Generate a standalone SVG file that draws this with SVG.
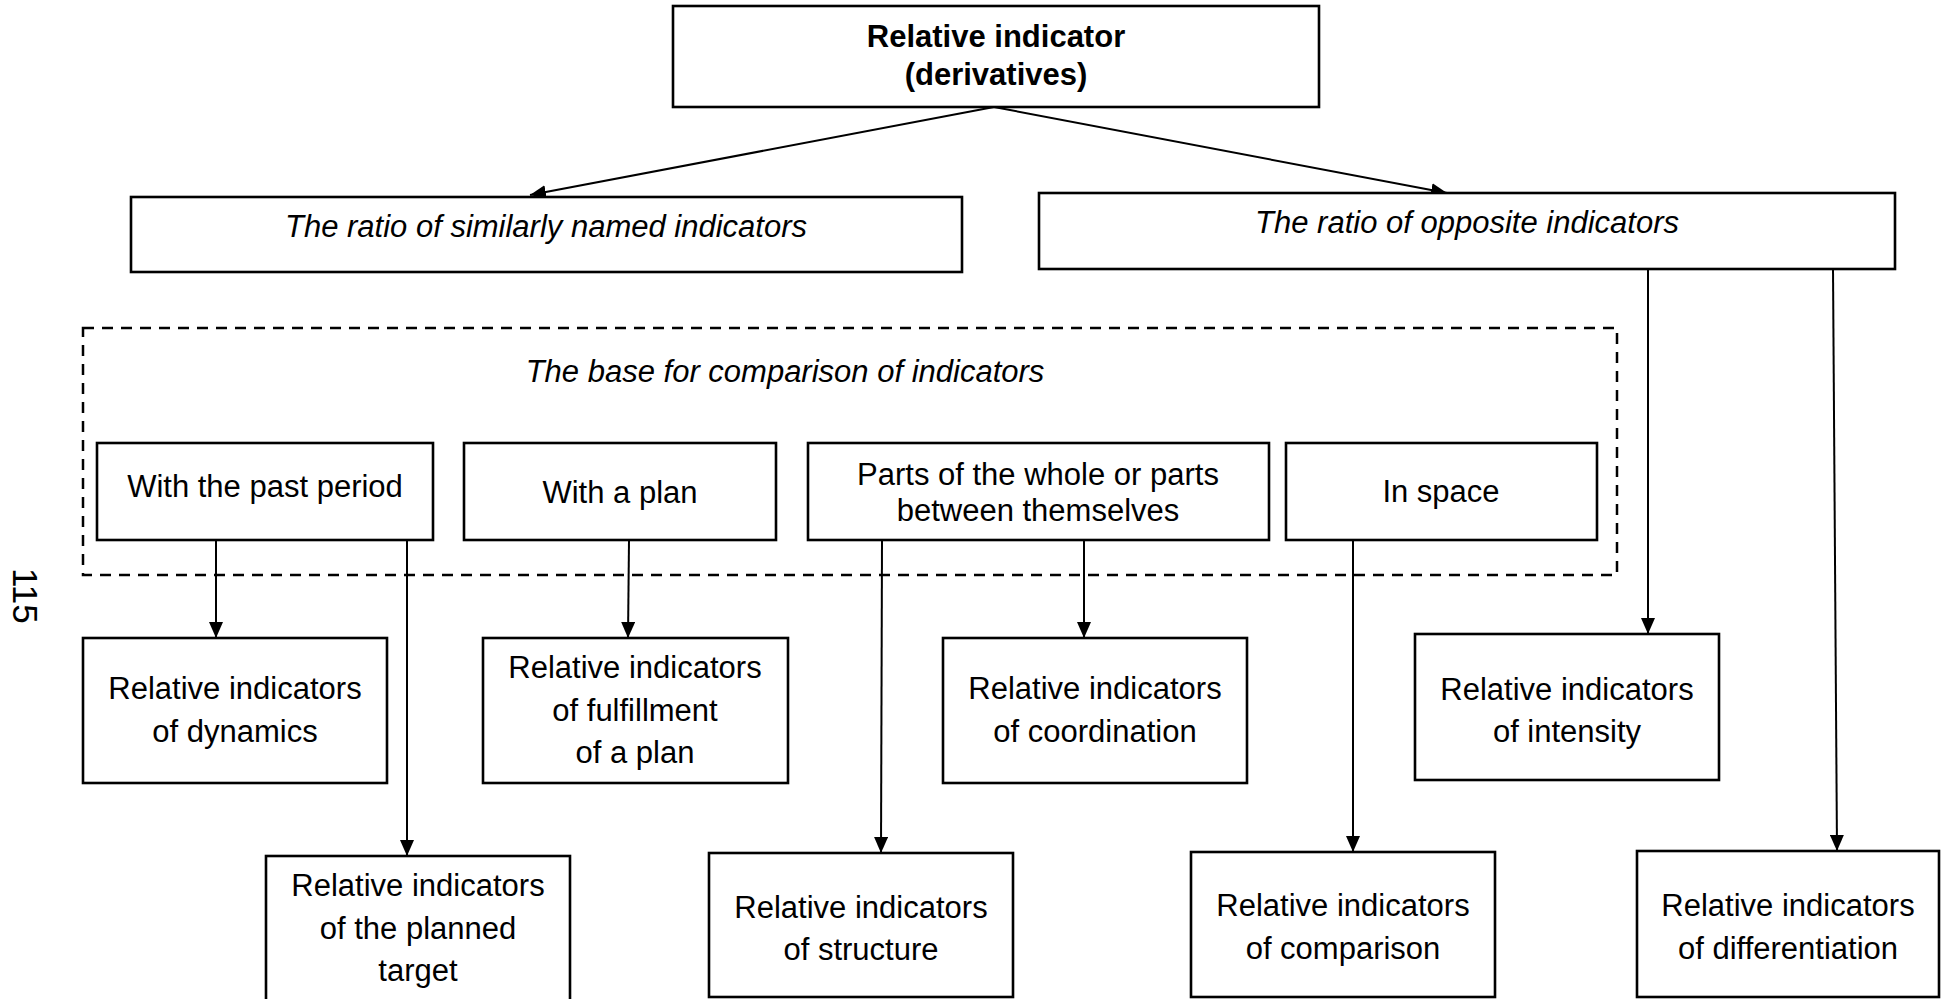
<svg xmlns="http://www.w3.org/2000/svg" width="1941" height="999" viewBox="0 0 1941 999">
<style>
  .box{fill:#fff;stroke:#000;stroke-width:2.6}
  .dash{fill:none;stroke:#000;stroke-width:2.5;stroke-dasharray:11 8}
  .t{font-family:"Liberation Sans",Arial,sans-serif;font-size:31px;fill:#000;text-anchor:middle}
  .b{font-weight:bold}
  .i{font-style:italic}
  .c{stroke:#000;stroke-width:2;fill:none}
</style>
<defs>
  <marker id="arr" markerUnits="userSpaceOnUse" markerWidth="16" markerHeight="14" refX="16" refY="7" orient="auto">
    <path d="M0,0 L16,7 L0,14 Z" fill="#000"/>
  </marker>
</defs>
<rect x="0" y="0" width="1941" height="999" fill="#fff"/>

<text class="t" style="font-size:35px;text-anchor:start" transform="translate(13,568) rotate(90)">115</text>

<g id="base-frame">
  <rect class="dash" x="83" y="328" width="1534" height="247"/>
  <text class="t i" x="785" y="382">The base for comparison of indicators</text>
</g>

<g id="connectors">
  <line class="c" x1="994" y1="107" x2="530" y2="195" marker-end="url(#arr)"/>
  <line class="c" x1="994" y1="107" x2="1447" y2="193" marker-end="url(#arr)"/>
  <line class="c" x1="216" y1="540" x2="216" y2="638" marker-end="url(#arr)"/>
  <line class="c" x1="407" y1="540" x2="407" y2="856" marker-end="url(#arr)"/>
  <line class="c" x1="629" y1="540" x2="628" y2="638" marker-end="url(#arr)"/>
  <line class="c" x1="882" y1="540" x2="881" y2="853" marker-end="url(#arr)"/>
  <line class="c" x1="1084" y1="540" x2="1084" y2="638" marker-end="url(#arr)"/>
  <line class="c" x1="1353" y1="540" x2="1353" y2="852" marker-end="url(#arr)"/>
  <line class="c" x1="1648" y1="269" x2="1648" y2="634" marker-end="url(#arr)"/>
  <line class="c" x1="1833" y1="269" x2="1837" y2="851" marker-end="url(#arr)"/>
</g>

<g id="root">
  <rect class="box" x="673" y="6" width="646" height="101"/>
  <text class="t b" x="996" y="47">Relative indicator</text>
  <text class="t b" x="996" y="85">(derivatives)</text>
</g>

<g id="similar">
  <rect class="box" x="131" y="197" width="831" height="75"/>
  <text class="t i" x="546" y="237">The ratio of similarly named indicators</text>
</g>

<g id="opposite">
  <rect class="box" x="1039" y="193" width="856" height="76"/>
  <text class="t i" x="1467" y="233">The ratio of opposite indicators</text>
</g>

<g id="past">
  <rect class="box" x="97" y="443" width="336" height="97"/>
  <text class="t" x="265" y="497">With the past period</text>
</g>

<g id="plan">
  <rect class="box" x="464" y="443" width="312" height="97"/>
  <text class="t" x="620" y="503">With a plan</text>
</g>

<g id="parts">
  <rect class="box" x="808" y="443" width="461" height="97"/>
  <text class="t" x="1038" y="485">Parts of the whole or parts</text>
  <text class="t" x="1038" y="521">between themselves</text>
</g>

<g id="space">
  <rect class="box" x="1286" y="443" width="311" height="97"/>
  <text class="t" x="1441" y="502">In space</text>
</g>

<g id="dynamics">
  <rect class="box" x="83" y="638" width="304" height="145"/>
  <text class="t" x="235" y="699">Relative indicators</text>
  <text class="t" x="235" y="742">of dynamics</text>
</g>

<g id="fulfillment">
  <rect class="box" x="483" y="638" width="305" height="145"/>
  <text class="t" x="635" y="678">Relative indicators</text>
  <text class="t" x="635" y="721">of fulfillment</text>
  <text class="t" x="635" y="763">of a plan</text>
</g>

<g id="coordination">
  <rect class="box" x="943" y="638" width="304" height="145"/>
  <text class="t" x="1095" y="699">Relative indicators</text>
  <text class="t" x="1095" y="742">of coordination</text>
</g>

<g id="intensity">
  <rect class="box" x="1415" y="634" width="304" height="146"/>
  <text class="t" x="1567" y="700">Relative indicators</text>
  <text class="t" x="1567" y="742">of intensity</text>
</g>

<g id="planned-target">
  <rect class="box" x="266" y="856" width="304" height="160"/>
  <text class="t" x="418" y="896">Relative indicators</text>
  <text class="t" x="418" y="939">of the planned</text>
  <text class="t" x="418" y="981">target</text>
</g>

<g id="structure">
  <rect class="box" x="709" y="853" width="304" height="144"/>
  <text class="t" x="861" y="918">Relative indicators</text>
  <text class="t" x="861" y="960">of structure</text>
</g>

<g id="comparison">
  <rect class="box" x="1191" y="852" width="304" height="145"/>
  <text class="t" x="1343" y="916">Relative indicators</text>
  <text class="t" x="1343" y="959">of comparison</text>
</g>

<g id="differentiation">
  <rect class="box" x="1637" y="851" width="302" height="146"/>
  <text class="t" x="1788" y="916">Relative indicators</text>
  <text class="t" x="1788" y="959">of differentiation</text>
</g>
</svg>
